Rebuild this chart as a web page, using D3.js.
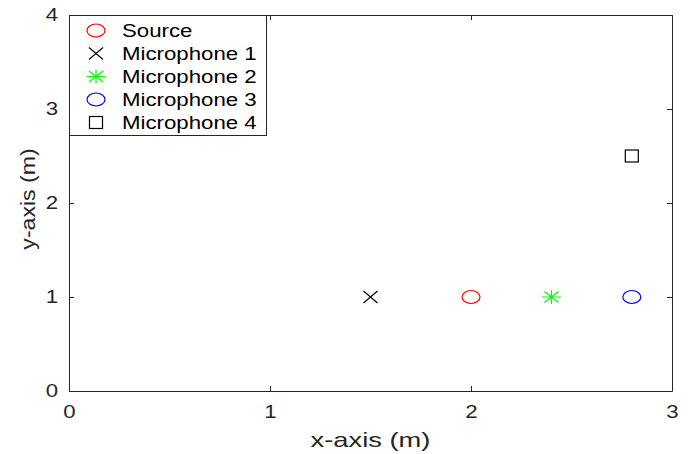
<!DOCTYPE html>
<html lang="en">
<head>
    <meta charset="UTF-8">
    <title>Source and microphone positions</title>
    <script src="https://d3js.org/d3.v7.min.js"></script>
    <style>
        body { margin: 0; background: #fff; font-family: "Liberation Sans", Arial, sans-serif; }
    </style>
</head>
<body>
    <svg id="chart" width="688" height="454"></svg>
    <script>
        // positions (m)
        const names = ["Source", "Microphone 1", "Microphone 2", "Microphone 3", "Microphone 4"];
        const xPos = [2, 1.5, 2.4, 2.8, 2.8];
        const yPos = [1, 1, 1, 1, 2.5];
        const symbols = ["circle", "cross", "star", "circle", "square"];
        const colors = ["#ff0000", "#000000", "#00ff00", "#0000ff", "#000000"];
        const xTicks = [0, 1, 2, 3];
        const yTicks = [0, 1, 2, 3, 4];

        const width = 688, height = 454;
        const margin = { top: 15, right: 16, bottom: 63, left: 69 };
        const axisColor = "#262626";
        const font = "'Liberation Sans', Arial, sans-serif";

        const svg = d3.select("#chart");
        const g = svg.append("g").attr("transform", `translate(${margin.left},${margin.top})`);
        const w = width - margin.left - margin.right;
        const h = height - margin.top - margin.bottom;

        const x = d3.scaleLinear().domain([0, 3]).range([0, w]);
        const y = d3.scaleLinear().domain([0, 4]).range([h, 0]);

        // the original picture is a bit stretched sideways, so widen the text
        function stretch(sel, k) {
            sel.each(function() {
                const len = this.getComputedTextLength();
                d3.select(this).attr("textLength", len * k).attr("lengthAdjust", "spacingAndGlyphs");
            });
        }

        // axes, ticks pointing inward (matlab style)
        const xAxis = g.append("g").attr("transform", `translate(0,${h})`)
            .call(d3.axisBottom(x).tickValues(xTicks).tickFormat(d3.format("d"))
                .tickSizeInner(-5).tickSizeOuter(0).tickPadding(11));
        const yAxis = g.append("g")
            .call(d3.axisLeft(y).tickValues(yTicks).tickFormat(d3.format("d"))
                .tickSizeInner(-5).tickSizeOuter(0).tickPadding(11));
        g.append("g").call(d3.axisTop(x).tickValues(xTicks).tickSizeInner(-5).tickSizeOuter(0).tickFormat(""));
        g.append("g").attr("transform", `translate(${w},0)`)
            .call(d3.axisRight(y).tickValues(yTicks).tickSizeInner(-5).tickSizeOuter(0).tickFormat(""));

        g.selectAll(".domain").attr("stroke", axisColor);
        g.selectAll(".tick line").attr("stroke", axisColor);
        g.selectAll("g").attr("font-family", font);
        g.selectAll(".tick text").attr("font-size", 18.5).attr("fill", axisColor).call(stretch, 1.2);
        xAxis.selectAll(".tick text").attr("dy", "0.85em");

        svg.append("text")
            .attr("x", margin.left + w / 2).attr("y", 447)
            .attr("text-anchor", "middle").attr("font-size", 21).attr("fill", axisColor)
            .text("x-axis (m)").call(stretch, 1.3);
        svg.append("text")
            .attr("transform", `translate(35,${margin.top + h / 2 - 4}) rotate(-90)`)
            .attr("text-anchor", "middle").attr("font-size", 21).attr("fill", axisColor)
            .text("y-axis (m)").call(stretch, 1.1);

        // marker drawing
        function drawMarker(sel, sym, color) {
            if (sym === "circle") {
                sel.append("ellipse").attr("rx", 9).attr("ry", 6.5)
                    .attr("fill", "none").attr("stroke", color).attr("stroke-width", 1.2);
            } else if (sym === "cross") {
                sel.append("path").attr("d", "M-7,-6L7,6M-7,6L7,-6")
                    .attr("fill", "none").attr("stroke", color).attr("stroke-width", 1.2);
            } else if (sym === "star") {
                sel.append("path").attr("d", "M-9.5,0L9.5,0M0,-7L0,7M-7,-5.5L7,5.5M-7,5.5L7,-5.5")
                    .attr("fill", "none").attr("stroke", color).attr("stroke-width", 1.2);
            } else if (sym === "square") {
                sel.append("rect").attr("x", -6.5).attr("y", -6).attr("width", 13).attr("height", 12)
                    .attr("fill", "none").attr("stroke", color).attr("stroke-width", 1.2);
            }
        }

        names.forEach((n, i) => {
            const m = g.append("g").attr("transform", `translate(${x(xPos[i])},${y(yPos[i])})`);
            drawMarker(m, symbols[i], colors[i]);
        });

        // legend
        const legend = g.append("g");
        legend.append("rect").attr("x", 0.5).attr("y", 0.5).attr("width", 197).attr("height", 120)
            .attr("fill", "#fff").attr("stroke", axisColor).attr("stroke-width", 1);
        names.forEach((n, i) => {
            const cy = 15.5 + i * 23;
            const m = legend.append("g").attr("transform", `translate(27,${cy})`);
            drawMarker(m, symbols[i], colors[i]);
            legend.append("text").attr("x", 53).attr("y", cy).attr("dy", "0.36em")
                .attr("font-family", font).attr("font-size", 17.5).attr("fill", "#000")
                .text(n).call(stretch, 1.27);
        });
    </script>
</body>
</html>
